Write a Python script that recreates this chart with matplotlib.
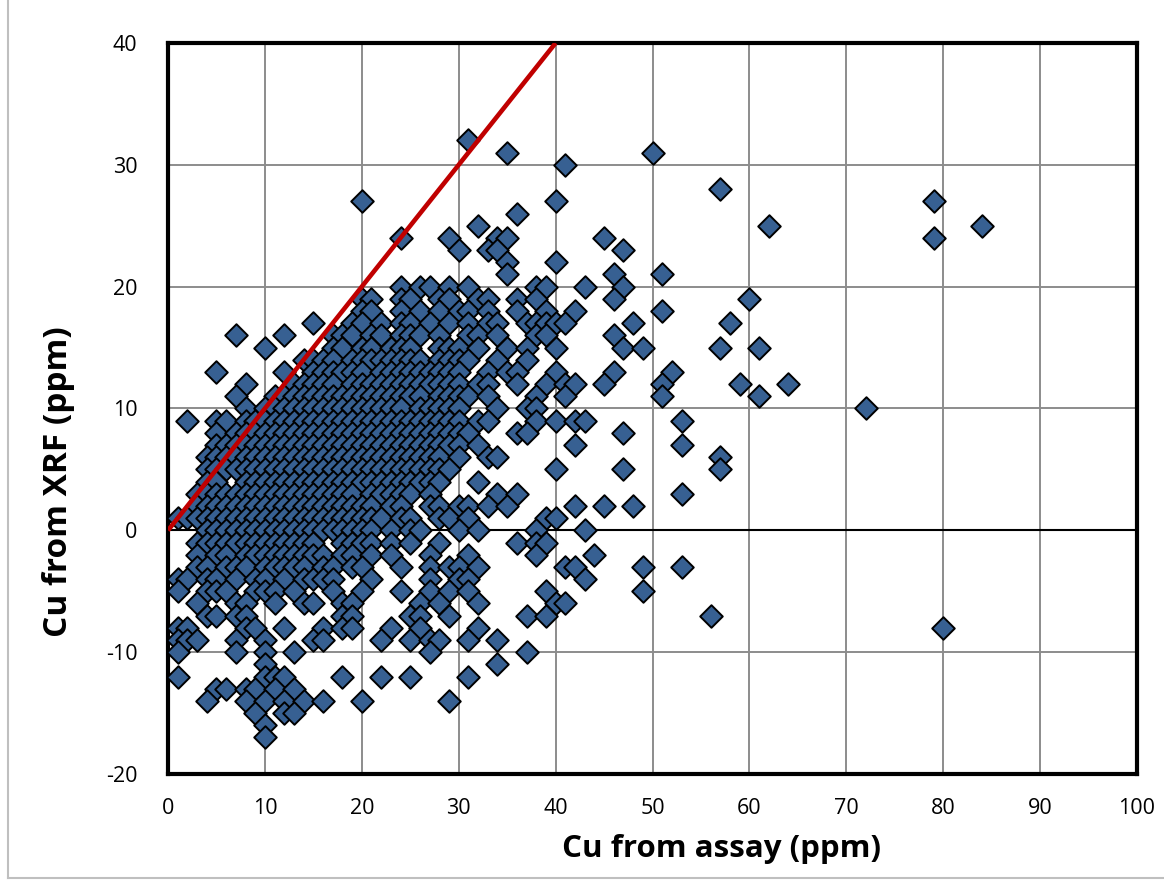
import matplotlib
matplotlib.use("Agg")
import matplotlib.pyplot as plt
from matplotlib.lines import Line2D

plt.rcParams["axes.unicode_minus"] = False

# XRF Cu levels (ppm) and the assay Cu values (ppm) of samples at each level
xrf_levels = [32, 31, 30, 28, 27, 26, 25, 24, 23, 22, 21, 20, 19, 18, 17, 16, 15, 14, 13, 12,
              11, 10, 9, 8, 7, 6, 5, 4, 3, 2, 1, 0, -1, -2, -3, -4, -5, -6, -7, -8, -9, -10,
              -11, -12, -13, -14, -15, -16, -17]
assay_by_level = [
    [31],
    [35, 50],
    [41],
    [57],
    [20, 40, 79],
    [36],
    [32, 62, 84],
    [24, 29, 34, 35, 45, 79],
    [30, 33, 34, 47],
    [35, 40],
    [35, 46, 51],
    [24, 26, 27, 29, 31, 38, 39, 43, 47],
    [20, 21, 24, 25, 28, 29, 32, 33, 36, 38, 46, 60],
    [20, 21, 24, 26, 28, 30, 31, 33, 36, 39, 42, 51],
    [15, 19, 20, 22, 24, 25, 27, 29, 31, 33, 34, 37, 38, 39, 40, 41, 48, 58],
    [7, 12, 17, 18, 19, 21, 22, 24, 25, 26, 28, 31, 32, 34, 38, 39, 46],
    [10, 17, 18, 20, 21, 23, 24, 25, 28, 29, 30, 32, 35, 37, 40, 47, 49, 57, 61],
    [14, 15, 16, 17, 19, 20, 21, 22, 23, 24, 25, 26, 28, 29, 30, 31, 34, 37],
    [5, 12, 15, 16, 17, 18, 19, 20, 22, 23, 24, 25, 26, 27, 28, 29, 30, 33, 35, 36, 40, 46, 52],
    [8, 13, 14, 15, 16, 17, 19, 20, 21, 22, 23, 24, 25, 26, 27, 28, 29, 30, 32, 33, 36, 39,
     41, 42, 45, 51, 59, 64],
    [7, 11, 12, 13, 14, 15, 16, 17, 18, 19, 20, 21, 22, 23, 24, 25, 26, 28, 29, 30, 31, 33,
     38, 41, 51, 61],
    [8, 10, 11, 12, 13, 14, 15, 16, 17, 18, 19, 20, 21, 22, 23, 24, 26, 27, 28, 29, 30, 34,
     37, 38, 72],
    [2, 5, 6, 8, 9, 10, 11, 12, 13, 14, 15, 16, 17, 18, 19, 20, 21, 22, 23, 24, 25, 26, 27,
     28, 29, 30, 32, 33, 38, 40, 42, 43, 53],
    [5, 7, 8, 9, 10, 11, 12, 13, 14, 15, 16, 17, 18, 19, 20, 21, 22, 23, 24, 25, 26, 27, 28,
     29, 30, 31, 36, 37, 47],
    [5, 6, 7, 8, 9, 10, 11, 12, 13, 14, 15, 16, 17, 18, 19, 20, 21, 22, 23, 24, 25, 26, 27,
     28, 29, 30, 32, 42, 53],
    [4, 5, 6, 7, 8, 9, 10, 11, 12, 13, 14, 15, 16, 17, 18, 19, 20, 21, 22, 23, 24, 25, 26,
     27, 28, 30, 33, 34, 57],
    [4, 5, 6, 7, 8, 9, 10, 11, 12, 13, 14, 15, 16, 17, 18, 19, 20, 21, 22, 23, 24, 25, 26,
     27, 28, 29, 40, 47, 57],
    [4, 5, 8, 9, 10, 11, 12, 13, 14, 15, 16, 17, 18, 19, 20, 21, 22, 23, 24, 25, 26, 27, 28, 32],
    [3, 4, 5, 6, 7, 8, 9, 10, 11, 12, 13, 14, 15, 16, 17, 18, 19, 21, 22, 23, 24, 25, 27,
     34, 36, 53],
    [3, 4, 5, 6, 7, 8, 9, 10, 11, 12, 13, 14, 15, 16, 17, 18, 19, 20, 21, 23, 24, 27, 28,
     30, 31, 33, 35, 42, 45, 48],
    [1, 2, 3, 4, 5, 6, 7, 8, 9, 10, 11, 12, 13, 14, 15, 16, 17, 18, 19, 20, 21, 22, 24, 25,
     28, 29, 31, 39, 40],
    [4, 5, 6, 7, 8, 9, 10, 11, 12, 13, 14, 15, 16, 17, 18, 19, 20, 21, 23, 25, 26, 30, 32,
     38, 43],
    [3, 4, 5, 6, 7, 8, 9, 10, 11, 12, 13, 14, 15, 18, 19, 20, 21, 23, 25, 28, 36, 38, 39],
    [3, 5, 6, 8, 9, 10, 11, 12, 13, 14, 15, 16, 18, 19, 21, 23, 27, 31, 38, 44],
    [3, 4, 6, 7, 8, 10, 11, 12, 13, 14, 16, 17, 19, 20, 24, 27, 29, 30, 32, 41, 42, 49, 53],
    [1, 2, 4, 5, 7, 9, 10, 12, 14, 15, 16, 17, 21, 27, 30, 31, 43],
    [1, 4, 5, 6, 9, 10, 11, 13, 17, 20, 24, 27, 29, 31, 39, 49],
    [3, 7, 8, 11, 14, 15, 18, 19, 26, 28, 32, 40, 41],
    [4, 5, 7, 8, 18, 19, 25, 26, 29, 37, 39, 56],
    [1, 2, 8, 9, 12, 16, 18, 19, 23, 26, 32, 80],
    [1, 2, 3, 7, 10, 15, 16, 22, 25, 27, 28, 31, 34],
    [1, 7, 10, 13, 27, 37],
    [10, 34],
    [1, 10, 11, 12, 18, 22, 25, 31],
    [5, 6, 8, 9, 11, 13],
    [4, 8, 10, 12, 14, 16, 20, 29],
    [9, 12, 13],
    [10],
    [10],
]

# 1:1 reference line endpoints (ppm)
line_x = [0, 40]
line_y = [0, 40]

x_ticks = list(range(0, 101, 10))
y_ticks = list(range(-20, 41, 10))

assay = []
xrf = []
for lvl, xs in zip(xrf_levels, assay_by_level):
    for v in xs:
        assay.append(v)
        xrf.append(lvl)

fig = plt.figure(figsize=(11.64, 8.82), dpi=100)
ax = fig.add_axes([168 / 1164, 1 - 774 / 882, (1137 - 168) / 1164, (774 - 43) / 882])

ax.set_xlim(0, 100)
ax.set_ylim(-20, 40)
ax.set_xticks(x_ticks)
ax.set_yticks(y_ticks)
ax.grid(True, color="#8c8c8c", linewidth=1.4, zorder=0)
ax.set_axisbelow(True)
ax.axhline(0, color="black", linewidth=1.5, zorder=1)

ax.scatter(assay, xrf, marker="D", s=132, facecolor="#376092", edgecolor="black",
           linewidth=1.4, zorder=3)
ax.plot(line_x, line_y, color="#C00000", linewidth=3.3, zorder=4, solid_capstyle="butt")

for sp in ax.spines.values():
    sp.set_linewidth(3.0)
    sp.set_color("black")

ax.tick_params(axis="both", length=0, labelsize=15.5)
ax.tick_params(axis="x", pad=17)
ax.tick_params(axis="y", pad=22)
for lab in ax.get_xticklabels() + ax.get_yticklabels():
    lab.set_family("Open Sans")
ax.set_xlabel("Cu from assay (ppm)", fontsize=22.5, fontweight="bold", family="Open Sans")
ax.set_ylabel("Cu from XRF (ppm)", fontsize=24, fontweight="bold", family="Open Sans")
ax.xaxis.set_label_coords(0.571, -0.082)
ax.yaxis.set_label_coords(-0.096, 0.40)

# outer chart border (left and bottom edges visible in the original)
fig.add_artist(Line2D([8 / 1164, 8 / 1164], [4 / 882, 1.0], transform=fig.transFigure,
                      color="#bfbfbf", linewidth=1.5))
fig.add_artist(Line2D([8 / 1164, 1.0], [4 / 882, 4 / 882], transform=fig.transFigure,
                      color="#bfbfbf", linewidth=1.5))

fig.savefig("out.png", dpi=100)
